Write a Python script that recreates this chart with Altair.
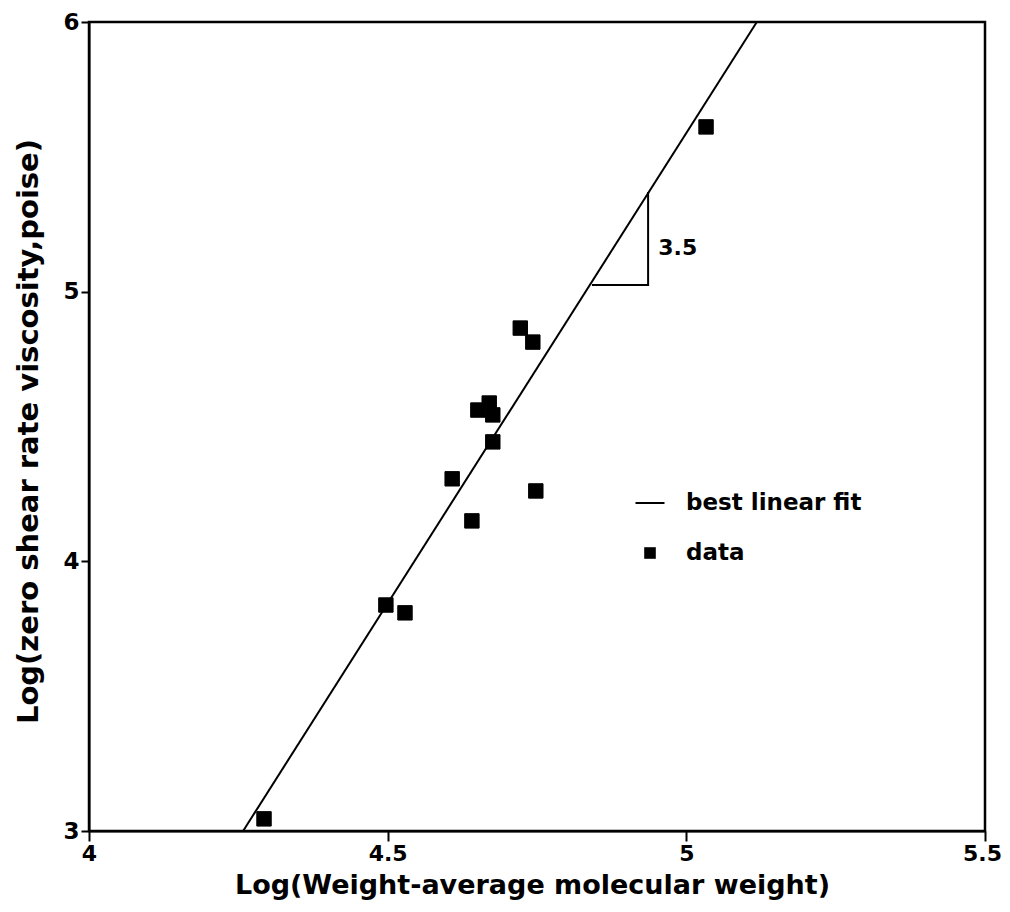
import altair as alt
import pandas as pd

# Data
mol_weight = [4.293, 4.497, 4.529, 4.608, 4.641, 4.651, 4.670, 4.676, 4.676, 4.722, 4.743, 4.748, 5.033]
viscosity = [3.045, 3.838, 3.809, 4.306, 4.150, 4.561, 4.587, 4.543, 4.443, 4.865, 4.813, 4.261, 5.611]

fit_x = [4.258, 5.118]
fit_y = [3.0, 6.0]

tri_x = [4.842, 4.936, 4.936]
tri_y = [5.025, 5.025, 5.370]

slope_label = ["3.5"]
slope_label_x = [4.953]
slope_label_y = [5.162]

series_names = ["best linear fit", "data"]
x_ticks = [4, 4.5, 5, 5.5]
y_ticks = [3, 4, 5, 6]

FONT = "DejaVu Sans"

pts = pd.DataFrame({"mw": mol_weight, "visc": viscosity, "series": "data"})
fit = pd.DataFrame({"mw": fit_x, "visc": fit_y})
tri = pd.DataFrame({"mw": tri_x, "visc": tri_y, "order": list(range(len(tri_x)))})
lab = pd.DataFrame({"mw": slope_label_x, "visc": slope_label_y, "text": slope_label})

xscale = alt.Scale(domain=[4, 5.5], nice=False, zero=False)
yscale = alt.Scale(domain=[3, 6], nice=False, zero=False)

xaxis = alt.Axis(
    values=x_ticks, format="~g", title="Log(Weight-average molecular weight)",
    grid=False, domainColor="black", domainWidth=2, tickColor="black", tickWidth=2,
    tickSize=10, labelFont=FONT, labelFontWeight="bold", labelFontSize=22,
    labelColor="black", labelPadding=2, labelFlush=False, labelOverlap=False,
    labelOffset={"condition": {"test": "datum.value == 5.5", "value": -3}, "value": 0},
    titleFont=FONT, titleFontWeight="bold", titleFontSize=27, titleColor="black",
    titleX=443, titleY=54, titleBaseline="middle", titleAlign="center",
)
yaxis = alt.Axis(
    values=y_ticks, format="~g", title="Log(zero shear rate viscosity,poise)",
    grid=False, domainColor="black", domainWidth=2, tickColor="black", tickWidth=2,
    tickSize=8, labelFont=FONT, labelFontWeight="bold", labelFontSize=23,
    labelColor="black", labelPadding=2, labelFlush=False, labelOverlap=False,
    titleFont=FONT, titleFontWeight="bold", titleFontSize=29, titleColor="black",
    titleX=-61, titleY=409, titleAngle=270, titleBaseline="middle", titleAlign="center",
)

legend = alt.Legend(
    title=None, orient="none", legendX=546, legendY=466, padding=0,
    symbolSize=841, symbolStrokeColor="black", symbolStrokeWidth=0.5,
    symbolFillColor="black", symbolOpacity=1, rowPadding=23, labelOffset=21,
    labelLimit=400,
    labelFont=FONT, labelFontWeight="bold", labelFontSize=23, labelColor="black",
)

points = alt.Chart(pts).mark_point(
    filled=True, color="black", stroke="black", strokeWidth=1, opacity=1, size=1300
).encode(
    x=alt.X("mw:Q", scale=xscale, axis=xaxis),
    y=alt.Y("visc:Q", scale=yscale, axis=yaxis),
    shape=alt.Shape(
        "series:N",
        scale=alt.Scale(domain=series_names,
                        range=["M-1,-0.07H1V0.07H-1Z", "M-0.4,-0.4H0.4V0.4H-0.4Z"]),
        legend=legend,
    ),
)

fit_line = alt.Chart(fit).mark_line(color="black", strokeWidth=2).encode(
    x=alt.X("mw:Q", scale=xscale),
    y=alt.Y("visc:Q", scale=yscale),
)

triangle = alt.Chart(tri).mark_line(color="black", strokeWidth=2).encode(
    x=alt.X("mw:Q", scale=xscale),
    y=alt.Y("visc:Q", scale=yscale),
    order="order:Q",
)

text = alt.Chart(lab).mark_text(
    font=FONT, fontWeight="bold", fontSize=22, color="black",
    align="left", baseline="middle",
).encode(
    x=alt.X("mw:Q", scale=xscale),
    y=alt.Y("visc:Q", scale=yscale),
    text="text:N",
)

chart = alt.layer(fit_line, triangle, points, text).properties(
    width=896, height=809,
    background="white",
    autosize=alt.AutoSizeParams(type="none"),
    padding={"left": 81, "top": 14, "right": 17, "bottom": 73},
).configure_view(
    stroke="black", strokeWidth=2.5
)

chart.save("out.html", embed_options={"renderer": "svg", "actions": False})
